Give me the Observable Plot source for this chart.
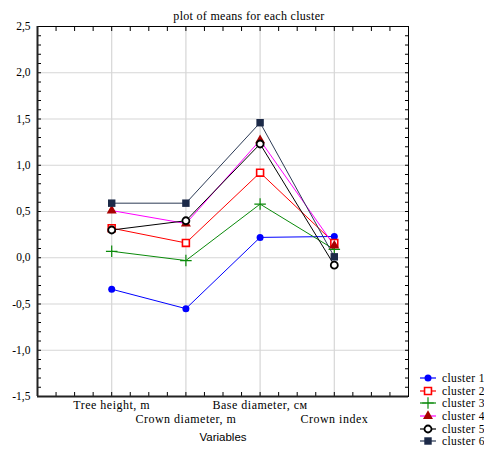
<!DOCTYPE html>
<html>
<head>
<meta charset="utf-8">
<script src="https://cdn.jsdelivr.net/npm/d3@7"></script>
<script src="https://cdn.jsdelivr.net/npm/@observablehq/plot@0.6"></script>
<style>
  html, body { margin: 0; padding: 0; background: #fff; overflow: hidden; }
  #wrap { position: relative; width: 484px; height: 451px; overflow: hidden; }
  #legend { position: absolute; left: 418px; top: 372px; font-family: "Liberation Serif", "DejaVu Serif", serif; font-size: 11.5px; letter-spacing: 0.4px; color: #000; white-space: nowrap; }
  #legend .row { height: 12.6px; display: flex; align-items: center; }
  #legend svg { margin-right: 4px; }
</style>
</head>
<body>
<div id="wrap"></div>
<script>
const title = "plot of means for each cluster";
const xLabel = "Variables";
const variables = ["Tree height, m", "Crown diameter, m", "Base diameter, см", "Crown index"];
const clusters = ["cluster 1", "cluster 2", "cluster 3", "cluster 4", "cluster 5", "cluster 6"];
const cluster1 = [-0.34, -0.55, 0.22, 0.23];
const cluster2 = [0.32, 0.16, 0.92, 0.16];
const cluster3 = [0.07, -0.03, 0.58, 0.09];
const cluster4 = [0.51, 0.37, 1.27, 0.13];
const cluster5 = [0.30, 0.40, 1.23, -0.08];
const cluster6 = [0.59, 0.59, 1.46, 0.01];
const yTicks = [-1.5, -1.0, -0.5, 0.0, 0.5, 1.0, 1.5, 2.0, 2.5];

const seriesValues = [cluster1, cluster2, cluster3, cluster4, cluster5, cluster6];
const styles = [
  {line: "#0000ff", symbol: "circle", fill: "#0000ff", stroke: "none", r: 3.5, sw: 0},
  {line: "#ff0000", symbol: "square", fill: "white", stroke: "#ff0000", r: 3.9, sw: 1.6},
  {line: "#0a8a0a", symbol: "plus", fill: "none", stroke: "#0a8a0a", r: 3.8, sw: 1.2},
  {line: "#ff00ff", symbol: "triangle", fill: "#a80000", stroke: "none", r: 3.7, sw: 0},
  {line: "#000000", symbol: "circle", fill: "white", stroke: "#000000", r: 3.5, sw: 1.8},
  {line: "#2b3a55", symbol: "square", fill: "#1c2a48", stroke: "none", r: 4.2, sw: 0}
];

const rows = [];
seriesValues.forEach((vals, s) => vals.forEach((v, i) => rows.push({cluster: clusters[s], s, i: i + 1, v})));
const varRows = variables.map((name, i) => ({name, i: i + 1}));

const xDomain = [0, 5];
const yDomain = [-1.5, 2.5];
const yMinor = d3.range(-15, 26).map(d => d / 10);
const xMinor = d3.range(0, 21).map(d => d / 4);
const fmt = d => d.toFixed(1).replace(".", ",");

const marks = [
  Plot.gridX([1, 2, 3, 4], {stroke: "#d6d6d6", strokeOpacity: 1, strokeWidth: 1.2}),
  Plot.gridY(yTicks, {stroke: "#d6d6d6", strokeOpacity: 1, strokeWidth: 1.2}),
  Plot.axisY(yMinor, {anchor: "left", tickSize: -4, text: null, label: null}),
  Plot.axisY(yMinor, {anchor: "right", tickSize: -4, text: null, label: null}),
  Plot.axisX(xMinor, {anchor: "top", tickSize: -4, text: null, label: null}),
  Plot.axisX(xMinor, {anchor: "bottom", tickSize: -4, text: null, label: null}),
  Plot.axisY(yTicks, {anchor: "left", tickSize: 0, tickPadding: 7, tickFormat: fmt, label: null,
    fontFamily: "Liberation Serif", fontSize: 11.5}),
  Plot.frame({stroke: "black", strokeWidth: 1}),
  Plot.ruleX([xDomain[0]], {stroke: "#222", strokeWidth: 2}),
  Plot.ruleY([yDomain[0]], {stroke: "#222", strokeWidth: 2}),
  Plot.text(varRows.filter(d => d.i % 2 === 1), {x: "i", text: "name", frameAnchor: "bottom", dy: 12,
    fontFamily: "Liberation Serif", fontSize: 12, className: "spaced"}),
  Plot.text(varRows.filter(d => d.i % 2 === 0), {x: "i", text: "name", frameAnchor: "bottom", dy: 26,
    fontFamily: "Liberation Serif", fontSize: 12, className: "spaced"}),
  Plot.text([xLabel], {frameAnchor: "bottom", dy: 44, fontFamily: "Liberation Sans", fontSize: 11.5}),
  Plot.text([title], {frameAnchor: "top", dy: -15, dx: 26, fontFamily: "Liberation Serif", fontSize: 12, className: "spaced-t"})
];
styles.forEach((st, s) => {
  const data = rows.filter(d => d.s === s);
  marks.push(Plot.line(data, {x: "i", y: "v", stroke: st.line, strokeWidth: 1}));
});
styles.forEach((st, s) => {
  const data = rows.filter(d => d.s === s);
  marks.push(Plot.dot(data, {x: "i", y: "v", symbol: () => st.symbol, r: st.r,
    fill: st.fill, stroke: st.stroke, strokeWidth: st.sw}));
});

const chart = Plot.plot({
  width: 484,
  height: 451,
  marginTop: 26,
  marginBottom: 55,
  marginLeft: 37,
  marginRight: 76,
  style: {background: "white", overflow: "visible"},
  x: {domain: xDomain, axis: null},
  y: {domain: yDomain, axis: null},
  symbol: {type: "identity"},
  marks
});
d3.select(chart).selectAll(".spaced text, text.spaced").attr("letter-spacing", 0.5);
d3.select(chart).selectAll(".spaced-t text, text.spaced-t").attr("letter-spacing", 0.3);
document.getElementById("wrap").appendChild(chart);

// legend
const legend = document.createElement("div");
legend.id = "legend";
clusters.forEach((name, s) => {
  const st = styles[s];
  const row = document.createElement("div");
  row.className = "row";
  const sw = d3.create("svg").attr("width", 20).attr("height", 12);
  sw.append("line").attr("x1", 2).attr("x2", 18).attr("y1", 6).attr("y2", 6)
    .attr("stroke", st.line).attr("stroke-width", 1.2);
  const sym = {circle: d3.symbolCircle, square: d3.symbolSquare, plus: d3.symbolPlus, triangle: d3.symbolTriangle}[st.symbol];
  const size = Math.PI * st.r * st.r;
  sw.append("path").attr("transform", "translate(10,6)")
    .attr("d", d3.symbol(sym, size)())
    .attr("fill", st.fill).attr("stroke", st.stroke).attr("stroke-width", st.sw);
  row.appendChild(sw.node());
  const t = document.createElement("span");
  t.textContent = name;
  row.appendChild(t);
  legend.appendChild(row);
});
document.getElementById("wrap").appendChild(legend);
</script>
</body>
</html>
